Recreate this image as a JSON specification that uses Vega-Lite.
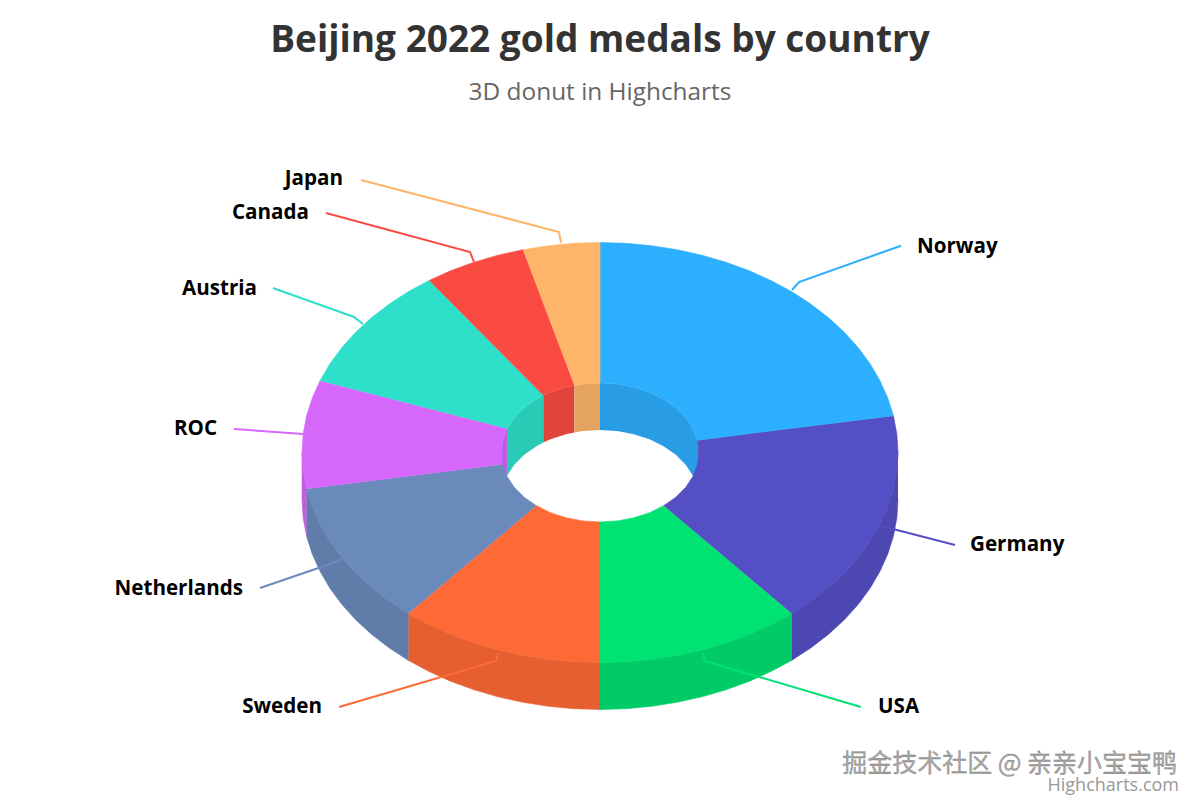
{
"$schema":"https://vega.github.io/schema/vega-lite/v6.json",
"width":1200,"height":800,"padding":0,"autosize":"none","background":"white",
"title":{"text":"Beijing 2022 gold medals by country","subtitle":"3D donut in Highcharts","anchor":"middle","frame":"group","font":"Open Sans","fontWeight":"bold","fontSize":37,"color":"#333333","subtitleFont":"Open Sans","subtitleFontSize":24.4,"subtitleColor":"#666666","subtitlePadding":21.5,"dy":109.5},
"view":{"stroke":null},
"config":{"axis":{"disable":true}},
"datasets":{
"side":[
{"country":"Germany","seq":0,"x":298,"y":0},{"country":"Germany","seq":1,"x":296.9,"y":-18.3},{"country":"Germany","seq":2,"x":293.5,"y":-36.5},{"country":"Germany","seq":3,"x":287.8,"y":-54.4},{"country":"Germany","seq":4,"x":280,"y":-71.8},{"country":"Germany","seq":5,"x":270.1,"y":-88.7},{"country":"Germany","seq":6,"x":258.1,"y":-105},{"country":"Germany","seq":7,"x":244.1,"y":-120.5},{"country":"Germany","seq":8,"x":228.3,"y":-135},{"country":"Germany","seq":9,"x":210.7,"y":-148.5},{"country":"Germany","seq":10,"x":191.6,"y":-160.9},{"country":"Germany","seq":11,"x":191.6,"y":-207.9},{"country":"Germany","seq":12,"x":210.7,"y":-195.5},{"country":"Germany","seq":13,"x":228.3,"y":-182},{"country":"Germany","seq":14,"x":244.1,"y":-167.5},{"country":"Germany","seq":15,"x":258.1,"y":-152},{"country":"Germany","seq":16,"x":270.1,"y":-135.7},{"country":"Germany","seq":17,"x":280,"y":-118.8},{"country":"Germany","seq":18,"x":287.8,"y":-101.4},{"country":"Germany","seq":19,"x":293.5,"y":-83.5},{"country":"Germany","seq":20,"x":296.9,"y":-65.3},{"country":"Germany","seq":21,"x":298,"y":-47},
{"country":"USA","seq":0,"x":191.6,"y":-160.9},{"country":"USA","seq":1,"x":170.9,"y":-172},{"country":"USA","seq":2,"x":149,"y":-181.9},{"country":"USA","seq":3,"x":125.9,"y":-190.3},{"country":"USA","seq":4,"x":101.9,"y":-197.3},{"country":"USA","seq":5,"x":77.1,"y":-202.8},{"country":"USA","seq":6,"x":51.7,"y":-206.8},{"country":"USA","seq":7,"x":26,"y":-209.2},{"country":"USA","seq":8,"x":0,"y":-210},{"country":"USA","seq":9,"x":0,"y":-257},{"country":"USA","seq":10,"x":26,"y":-256.2},{"country":"USA","seq":11,"x":51.7,"y":-253.8},{"country":"USA","seq":12,"x":77.1,"y":-249.8},{"country":"USA","seq":13,"x":101.9,"y":-244.3},{"country":"USA","seq":14,"x":125.9,"y":-237.3},{"country":"USA","seq":15,"x":149,"y":-228.9},{"country":"USA","seq":16,"x":170.9,"y":-219},{"country":"USA","seq":17,"x":191.6,"y":-207.9},
{"country":"Sweden","seq":0,"x":0,"y":-210},{"country":"Sweden","seq":1,"x":-26,"y":-209.2},{"country":"Sweden","seq":2,"x":-51.7,"y":-206.8},{"country":"Sweden","seq":3,"x":-77.1,"y":-202.8},{"country":"Sweden","seq":4,"x":-101.9,"y":-197.3},{"country":"Sweden","seq":5,"x":-125.9,"y":-190.3},{"country":"Sweden","seq":6,"x":-149,"y":-181.9},{"country":"Sweden","seq":7,"x":-170.9,"y":-172},{"country":"Sweden","seq":8,"x":-191.6,"y":-160.9},{"country":"Sweden","seq":9,"x":-191.6,"y":-207.9},{"country":"Sweden","seq":10,"x":-170.9,"y":-219},{"country":"Sweden","seq":11,"x":-149,"y":-228.9},{"country":"Sweden","seq":12,"x":-125.9,"y":-237.3},{"country":"Sweden","seq":13,"x":-101.9,"y":-244.3},{"country":"Sweden","seq":14,"x":-77.1,"y":-249.8},{"country":"Sweden","seq":15,"x":-51.7,"y":-253.8},{"country":"Sweden","seq":16,"x":-26,"y":-256.2},{"country":"Sweden","seq":17,"x":0,"y":-257},
{"country":"Netherlands","seq":0,"x":-191.6,"y":-160.9},{"country":"Netherlands","seq":1,"x":-210.7,"y":-148.5},{"country":"Netherlands","seq":2,"x":-228.3,"y":-135},{"country":"Netherlands","seq":3,"x":-244.1,"y":-120.5},{"country":"Netherlands","seq":4,"x":-258.1,"y":-105},{"country":"Netherlands","seq":5,"x":-270.1,"y":-88.7},{"country":"Netherlands","seq":6,"x":-280,"y":-71.8},{"country":"Netherlands","seq":7,"x":-287.8,"y":-54.4},{"country":"Netherlands","seq":8,"x":-293.5,"y":-36.5},{"country":"Netherlands","seq":9,"x":-293.5,"y":-83.5},{"country":"Netherlands","seq":10,"x":-287.8,"y":-101.4},{"country":"Netherlands","seq":11,"x":-280,"y":-118.8},{"country":"Netherlands","seq":12,"x":-270.1,"y":-135.7},{"country":"Netherlands","seq":13,"x":-258.1,"y":-152},{"country":"Netherlands","seq":14,"x":-244.1,"y":-167.5},{"country":"Netherlands","seq":15,"x":-228.3,"y":-182},{"country":"Netherlands","seq":16,"x":-210.7,"y":-195.5},{"country":"Netherlands","seq":17,"x":-191.6,"y":-207.9},
{"country":"ROC","seq":0,"x":-293.5,"y":-36.5},{"country":"ROC","seq":1,"x":-296.9,"y":-18.3},{"country":"ROC","seq":2,"x":-298,"y":0},{"country":"ROC","seq":3,"x":-298,"y":-47},{"country":"ROC","seq":4,"x":-296.9,"y":-65.3},{"country":"ROC","seq":5,"x":-293.5,"y":-83.5}
],
"wall":[
{"country":"ROC","seq":0,"x":-99,"y":0},{"country":"ROC","seq":1,"x":-97.4,"y":12.1},{"country":"ROC","seq":2,"x":-93,"y":23.8},{"country":"ROC","seq":3,"x":-93,"y":-23.2},{"country":"ROC","seq":4,"x":-97.4,"y":-34.9},{"country":"ROC","seq":5,"x":-99,"y":-47},
{"country":"Austria","seq":0,"x":-93,"y":23.8},{"country":"Austria","seq":1,"x":-85.7,"y":34.8},{"country":"Austria","seq":2,"x":-75.8,"y":44.7},{"country":"Austria","seq":3,"x":-63.6,"y":53.2},{"country":"Austria","seq":4,"x":-56.7,"y":56.9},{"country":"Austria","seq":5,"x":-56.7,"y":9.9},{"country":"Austria","seq":6,"x":-63.6,"y":6.2},{"country":"Austria","seq":7,"x":-75.8,"y":-2.3},{"country":"Austria","seq":8,"x":-85.7,"y":-12.2},{"country":"Austria","seq":9,"x":-93,"y":-23.2},
{"country":"Canada","seq":0,"x":-56.7,"y":56.9},{"country":"Canada","seq":1,"x":-49.5,"y":60.2},{"country":"Canada","seq":2,"x":-33.9,"y":65.3},{"country":"Canada","seq":3,"x":-25.6,"y":67.1},{"country":"Canada","seq":4,"x":-25.6,"y":20.1},{"country":"Canada","seq":5,"x":-33.9,"y":18.3},{"country":"Canada","seq":6,"x":-49.5,"y":13.2},{"country":"Canada","seq":7,"x":-56.7,"y":9.9},
{"country":"Japan","seq":0,"x":-25.6,"y":67.1},{"country":"Japan","seq":1,"x":-17.1,"y":68.4},{"country":"Japan","seq":2,"x":0,"y":69.5},{"country":"Japan","seq":3,"x":0,"y":22.5},{"country":"Japan","seq":4,"x":-17.1,"y":21.4},{"country":"Japan","seq":5,"x":-25.6,"y":20.1},
{"country":"Norway","seq":0,"x":0,"y":69.5},{"country":"Norway","seq":1,"x":17.1,"y":68.4},{"country":"Norway","seq":2,"x":33.9,"y":65.3},{"country":"Norway","seq":3,"x":49.5,"y":60.2},{"country":"Norway","seq":4,"x":63.6,"y":53.2},{"country":"Norway","seq":5,"x":75.8,"y":44.7},{"country":"Norway","seq":6,"x":85.7,"y":34.8},{"country":"Norway","seq":7,"x":93,"y":23.8},{"country":"Norway","seq":8,"x":97.4,"y":12.1},{"country":"Norway","seq":9,"x":97.4,"y":-34.9},{"country":"Norway","seq":10,"x":93,"y":-23.2},{"country":"Norway","seq":11,"x":85.7,"y":-12.2},{"country":"Norway","seq":12,"x":75.8,"y":-2.3},{"country":"Norway","seq":13,"x":63.6,"y":6.2},{"country":"Norway","seq":14,"x":49.5,"y":13.2},{"country":"Norway","seq":15,"x":33.9,"y":18.3},{"country":"Norway","seq":16,"x":17.1,"y":21.4},{"country":"Norway","seq":17,"x":0,"y":22.5},
{"country":"Germany","seq":0,"x":97.4,"y":12.1},{"country":"Germany","seq":1,"x":99,"y":0},{"country":"Germany","seq":2,"x":99,"y":-47},{"country":"Germany","seq":3,"x":97.4,"y":-34.9}
],
"top":[
{"country":"Norway","seq":0,"x":0,"y":210},{"country":"Norway","seq":1,"x":26,"y":209.2},{"country":"Norway","seq":2,"x":51.7,"y":206.8},{"country":"Norway","seq":3,"x":77.1,"y":202.8},{"country":"Norway","seq":4,"x":101.9,"y":197.3},{"country":"Norway","seq":5,"x":125.9,"y":190.3},{"country":"Norway","seq":6,"x":149,"y":181.9},{"country":"Norway","seq":7,"x":170.9,"y":172},{"country":"Norway","seq":8,"x":191.6,"y":160.9},{"country":"Norway","seq":9,"x":210.7,"y":148.5},{"country":"Norway","seq":10,"x":228.3,"y":135},{"country":"Norway","seq":11,"x":244.1,"y":120.5},{"country":"Norway","seq":12,"x":258.1,"y":105},{"country":"Norway","seq":13,"x":270.1,"y":88.7},{"country":"Norway","seq":14,"x":280,"y":71.8},{"country":"Norway","seq":15,"x":287.8,"y":54.4},{"country":"Norway","seq":16,"x":293.5,"y":36.5},{"country":"Norway","seq":17,"x":97.4,"y":12.1},{"country":"Norway","seq":18,"x":93,"y":23.8},{"country":"Norway","seq":19,"x":85.7,"y":34.8},{"country":"Norway","seq":20,"x":75.8,"y":44.7},{"country":"Norway","seq":21,"x":63.6,"y":53.2},{"country":"Norway","seq":22,"x":49.5,"y":60.2},{"country":"Norway","seq":23,"x":33.9,"y":65.3},{"country":"Norway","seq":24,"x":17.1,"y":68.4},{"country":"Norway","seq":25,"x":0,"y":69.5},
{"country":"Germany","seq":0,"x":293.5,"y":36.5},{"country":"Germany","seq":1,"x":296.9,"y":18.3},{"country":"Germany","seq":2,"x":298,"y":0},{"country":"Germany","seq":3,"x":296.9,"y":-18.3},{"country":"Germany","seq":4,"x":293.5,"y":-36.5},{"country":"Germany","seq":5,"x":287.8,"y":-54.4},{"country":"Germany","seq":6,"x":280,"y":-71.8},{"country":"Germany","seq":7,"x":270.1,"y":-88.7},{"country":"Germany","seq":8,"x":258.1,"y":-105},{"country":"Germany","seq":9,"x":244.1,"y":-120.5},{"country":"Germany","seq":10,"x":228.3,"y":-135},{"country":"Germany","seq":11,"x":210.7,"y":-148.5},{"country":"Germany","seq":12,"x":191.6,"y":-160.9},{"country":"Germany","seq":13,"x":63.6,"y":-53.2},{"country":"Germany","seq":14,"x":75.8,"y":-44.7},{"country":"Germany","seq":15,"x":85.7,"y":-34.8},{"country":"Germany","seq":16,"x":93,"y":-23.8},{"country":"Germany","seq":17,"x":97.4,"y":-12.1},{"country":"Germany","seq":18,"x":99,"y":0},{"country":"Germany","seq":19,"x":97.4,"y":12.1},
{"country":"USA","seq":0,"x":191.6,"y":-160.9},{"country":"USA","seq":1,"x":170.9,"y":-172},{"country":"USA","seq":2,"x":149,"y":-181.9},{"country":"USA","seq":3,"x":125.9,"y":-190.3},{"country":"USA","seq":4,"x":101.9,"y":-197.3},{"country":"USA","seq":5,"x":77.1,"y":-202.8},{"country":"USA","seq":6,"x":51.7,"y":-206.8},{"country":"USA","seq":7,"x":26,"y":-209.2},{"country":"USA","seq":8,"x":0,"y":-210},{"country":"USA","seq":9,"x":0,"y":-69.5},{"country":"USA","seq":10,"x":17.1,"y":-68.4},{"country":"USA","seq":11,"x":33.9,"y":-65.3},{"country":"USA","seq":12,"x":49.5,"y":-60.2},{"country":"USA","seq":13,"x":63.6,"y":-53.2},
{"country":"Sweden","seq":0,"x":0,"y":-210},{"country":"Sweden","seq":1,"x":-26,"y":-209.2},{"country":"Sweden","seq":2,"x":-51.7,"y":-206.8},{"country":"Sweden","seq":3,"x":-77.1,"y":-202.8},{"country":"Sweden","seq":4,"x":-101.9,"y":-197.3},{"country":"Sweden","seq":5,"x":-125.9,"y":-190.3},{"country":"Sweden","seq":6,"x":-149,"y":-181.9},{"country":"Sweden","seq":7,"x":-170.9,"y":-172},{"country":"Sweden","seq":8,"x":-191.6,"y":-160.9},{"country":"Sweden","seq":9,"x":-63.6,"y":-53.2},{"country":"Sweden","seq":10,"x":-49.5,"y":-60.2},{"country":"Sweden","seq":11,"x":-33.9,"y":-65.3},{"country":"Sweden","seq":12,"x":-17.1,"y":-68.4},{"country":"Sweden","seq":13,"x":0,"y":-69.5},
{"country":"Netherlands","seq":0,"x":-191.6,"y":-160.9},{"country":"Netherlands","seq":1,"x":-210.7,"y":-148.5},{"country":"Netherlands","seq":2,"x":-228.3,"y":-135},{"country":"Netherlands","seq":3,"x":-244.1,"y":-120.5},{"country":"Netherlands","seq":4,"x":-258.1,"y":-105},{"country":"Netherlands","seq":5,"x":-270.1,"y":-88.7},{"country":"Netherlands","seq":6,"x":-280,"y":-71.8},{"country":"Netherlands","seq":7,"x":-287.8,"y":-54.4},{"country":"Netherlands","seq":8,"x":-293.5,"y":-36.5},{"country":"Netherlands","seq":9,"x":-97.4,"y":-12.1},{"country":"Netherlands","seq":10,"x":-93,"y":-23.8},{"country":"Netherlands","seq":11,"x":-85.7,"y":-34.8},{"country":"Netherlands","seq":12,"x":-75.8,"y":-44.7},{"country":"Netherlands","seq":13,"x":-63.6,"y":-53.2},
{"country":"ROC","seq":0,"x":-293.5,"y":-36.5},{"country":"ROC","seq":1,"x":-296.9,"y":-18.3},{"country":"ROC","seq":2,"x":-298,"y":0},{"country":"ROC","seq":3,"x":-296.9,"y":18.3},{"country":"ROC","seq":4,"x":-293.5,"y":36.5},{"country":"ROC","seq":5,"x":-287.8,"y":54.4},{"country":"ROC","seq":6,"x":-280,"y":71.8},{"country":"ROC","seq":7,"x":-93,"y":23.8},{"country":"ROC","seq":8,"x":-97.4,"y":12.1},{"country":"ROC","seq":9,"x":-99,"y":0},{"country":"ROC","seq":10,"x":-97.4,"y":-12.1},
{"country":"Austria","seq":0,"x":-280,"y":71.8},{"country":"Austria","seq":1,"x":-270.1,"y":88.7},{"country":"Austria","seq":2,"x":-258.1,"y":105},{"country":"Austria","seq":3,"x":-244.1,"y":120.5},{"country":"Austria","seq":4,"x":-228.3,"y":135},{"country":"Austria","seq":5,"x":-210.7,"y":148.5},{"country":"Austria","seq":6,"x":-191.6,"y":160.9},{"country":"Austria","seq":7,"x":-170.9,"y":172},{"country":"Austria","seq":8,"x":-56.7,"y":56.9},{"country":"Austria","seq":9,"x":-63.6,"y":53.2},{"country":"Austria","seq":10,"x":-75.8,"y":44.7},{"country":"Austria","seq":11,"x":-85.7,"y":34.8},{"country":"Austria","seq":12,"x":-93,"y":23.8},
{"country":"Canada","seq":0,"x":-170.9,"y":172},{"country":"Canada","seq":1,"x":-149,"y":181.9},{"country":"Canada","seq":2,"x":-125.9,"y":190.3},{"country":"Canada","seq":3,"x":-101.9,"y":197.3},{"country":"Canada","seq":4,"x":-77.1,"y":202.8},{"country":"Canada","seq":5,"x":-25.6,"y":67.1},{"country":"Canada","seq":6,"x":-33.9,"y":65.3},{"country":"Canada","seq":7,"x":-49.5,"y":60.2},{"country":"Canada","seq":8,"x":-56.7,"y":56.9},
{"country":"Japan","seq":0,"x":-77.1,"y":202.8},{"country":"Japan","seq":1,"x":-51.7,"y":206.8},{"country":"Japan","seq":2,"x":-26,"y":209.2},{"country":"Japan","seq":3,"x":0,"y":210},{"country":"Japan","seq":4,"x":0,"y":69.5},{"country":"Japan","seq":5,"x":-17.1,"y":68.4},{"country":"Japan","seq":6,"x":-25.6,"y":67.1}
],
"leaders":[
{"country":"Norway","seq":0,"x":301,"y":206.8},{"country":"Norway","seq":1,"x":199,"y":170.5},{"country":"Norway","seq":2,"x":192,"y":162.5},
{"country":"Germany","seq":0,"x":355,"y":-92.5},{"country":"Germany","seq":1,"x":293,"y":-76.5},{"country":"Germany","seq":2,"x":283,"y":-74.5},
{"country":"USA","seq":0,"x":261,"y":-254.5},{"country":"USA","seq":1,"x":105,"y":-208.5},{"country":"USA","seq":2,"x":103,"y":-200.5},
{"country":"Sweden","seq":0,"x":-261,"y":-254.5},{"country":"Sweden","seq":1,"x":-104,"y":-208.5},{"country":"Sweden","seq":2,"x":-102,"y":-200.5},
{"country":"Netherlands","seq":0,"x":-340,"y":-135.5},{"country":"Netherlands","seq":1,"x":-267,"y":-110.5},{"country":"Netherlands","seq":2,"x":-258,"y":-106.5},
{"country":"ROC","seq":0,"x":-366,"y":23.5},{"country":"ROC","seq":1,"x":-297,"y":18.5},
{"country":"Austria","seq":0,"x":-327,"y":164.5},{"country":"Austria","seq":1,"x":-246,"y":135.5},{"country":"Austria","seq":2,"x":-237,"y":128.5},
{"country":"Canada","seq":0,"x":-274,"y":239.5},{"country":"Canada","seq":1,"x":-130,"y":200.5},{"country":"Canada","seq":2,"x":-126,"y":190.5},
{"country":"Japan","seq":0,"x":-239,"y":272.5},{"country":"Japan","seq":1,"x":-41,"y":220.5},{"country":"Japan","seq":2,"x":-39,"y":209.5}
]
},
"encoding":{
"x":{"field":"x","type":"quantitative","scale":{"domain":[-600,600]}},
"y":{"field":"y","type":"quantitative","scale":{"domain":[-347.5,452.5]}}
},
"layer":[
{"data":{"name":"side"},"mark":{"type":"line","filled":true,"strokeWidth":0.6},
"encoding":{"order":{"field":"seq"},"color":{"field":"country","type":"nominal","legend":null,"scale":{"domain":["Norway","Germany","USA","Sweden","Netherlands","ROC","Austria","Canada","Japan"],"range":["#289de5","#4c47b1","#00cb67","#e55f30","#607ca9","#c05de2","#29cab6","#e1443b","#e5a360"]}},"stroke":{"field":"country","type":"nominal","legend":null,"scale":{"domain":["Norway","Germany","USA","Sweden","Netherlands","ROC","Austria","Canada","Japan"],"range":["#289de5","#4c47b1","#00cb67","#e55f30","#607ca9","#c05de2","#29cab6","#e1443b","#e5a360"]}}}},
{"data":{"name":"wall"},"mark":{"type":"line","filled":true},
"encoding":{"order":{"field":"seq"},"color":{"field":"country","type":"nominal","legend":null,"scale":{"domain":["Norway","Germany","USA","Sweden","Netherlands","ROC","Austria","Canada","Japan"],"range":["#289de5","#4c47b1","#00cb67","#e55f30","#607ca9","#c05de2","#29cab6","#e1443b","#e5a360"]}}}},
{"data":{"name":"leaders"},"mark":{"type":"line","strokeWidth":2},
"encoding":{"order":{"field":"seq"},"color":{"field":"country","type":"nominal","legend":null,"scale":{"domain":["Norway","Germany","USA","Sweden","Netherlands","ROC","Austria","Canada","Japan"],"range":["#2caffe","#544fc5","#00e272","#fe6a35","#6b8abc","#d568fb","#2ee0ca","#fa4b42","#feb56a"]}}}},
{"data":{"name":"top"},"mark":{"type":"line","filled":true,"strokeWidth":0.6},
"encoding":{"order":{"field":"seq"},"color":{"field":"country","type":"nominal","legend":null,"scale":{"domain":["Norway","Germany","USA","Sweden","Netherlands","ROC","Austria","Canada","Japan"],"range":["#2caffe","#544fc5","#00e272","#fe6a35","#6b8abc","#d568fb","#2ee0ca","#fa4b42","#feb56a"]}},"stroke":{"field":"country","type":"nominal","legend":null,"scale":{"domain":["Norway","Germany","USA","Sweden","Netherlands","ROC","Austria","Canada","Japan"],"range":["#2caffe","#544fc5","#00e272","#fe6a35","#6b8abc","#d568fb","#2ee0ca","#fa4b42","#feb56a"]}}}},
{"data":{"values":[{"country":"Japan","medals":3,"x":-257,"y":273.5},{"country":"Canada","medals":4,"x":-291,"y":239.5},{"country":"Austria","medals":7,"x":-343,"y":163.5},{"country":"ROC","medals":6,"x":-383,"y":23.5},{"country":"Netherlands","medals":8,"x":-357,"y":-136.5},{"country":"Sweden","medals":8,"x":-278,"y":-254.5}]},
"mark":{"type":"text","align":"right","baseline":"middle","font":"Open Sans","fontWeight":"bold","fontSize":20.6,"color":"black"},
"encoding":{"text":{"field":"country"}}},
{"data":{"values":[{"country":"Norway","medals":16,"x":317,"y":205.5},{"country":"Germany","medals":12,"x":370,"y":-92.5},{"country":"USA","medals":8,"x":278,"y":-254.5}]},
"mark":{"type":"text","align":"left","baseline":"middle","font":"Open Sans","fontWeight":"bold","fontSize":20.6,"color":"black"},
"encoding":{"text":{"field":"country"}}},
{"data":{"values":[{"note":"掘金技术社区 @ 亲亲小宝宝鸭","x":577,"y":-311.5}]},
"mark":{"type":"text","align":"right","baseline":"middle","font":"Noto Sans CJK SC","fontSize":25,"color":"#a8a8a8","stroke":"#787878","strokeWidth":0.3},
"encoding":{"text":{"field":"note"}}},
{"data":{"values":[{"note":"Highcharts.com","x":579,"y":-333.5}]},
"mark":{"type":"text","align":"right","baseline":"middle","font":"Open Sans","fontSize":18,"color":"#999999"},
"encoding":{"text":{"field":"note"}}}
],
"resolve":{"scale":{"color":"independent","stroke":"independent"}}
}
